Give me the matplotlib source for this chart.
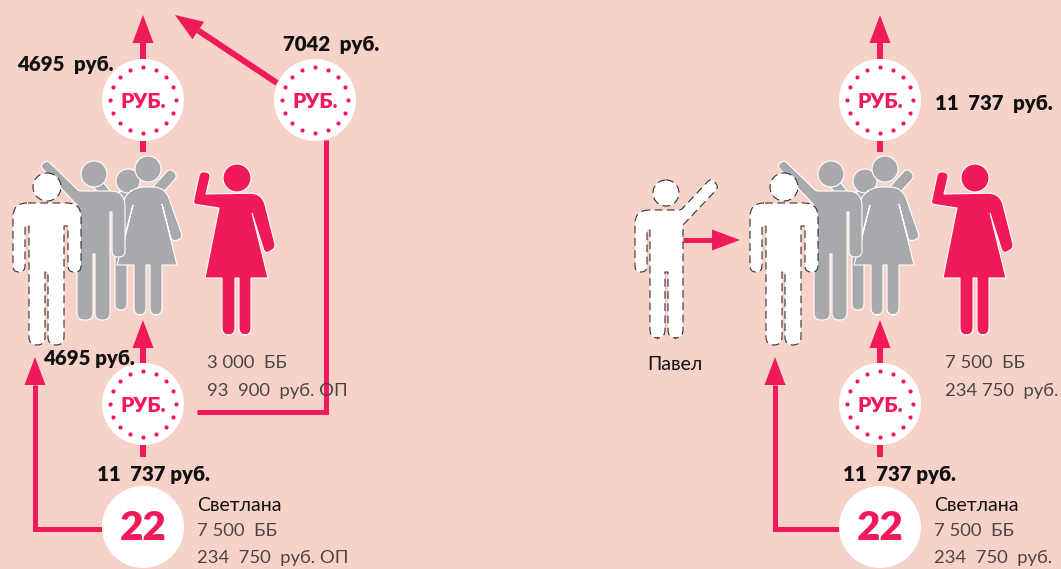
import numpy as np
import matplotlib
matplotlib.use('Agg')
import matplotlib.pyplot as plt
from matplotlib.path import Path
from matplotlib.patches import PathPatch, Circle, Polygon

plt.rcParams['font.family'] = ['Lato', 'Open Sans', 'DejaVu Sans']

PINK = '#F0195A'
GRAY = '#A7A9AC'
BG = '#F7D2C9'
DARK = '#111111'
SOFT = '#4a4543'

# labels: text, left x, centre y
bold_labels = [
    ('4695  руб.', 17, 64), ('7042  руб.', 283, 44), ('4695 руб.', 43, 358),
    ('11  737 руб.', 97, 474), ('11  737  руб.', 935, 103), ('11  737 руб.', 843, 474),
]
soft_labels = [
    ('3 000  ББ', 207, 363), ('93  900  руб. ОП', 207, 391),
    ('7 500  ББ', 197, 531), ('234  750  руб. ОП', 197, 558),
    ('7 500  ББ', 945, 363), ('234 750  руб.', 945, 391),
    ('7 500  ББ', 934, 531), ('234  750  руб.', 934, 558),
]
name_labels = [('Светлана', 197, 505), ('Светлана', 934, 505), ('Павел', 647, 364)]
coin_centres = [(143, 100), (315, 100), (143, 404), (880, 100), (880, 404)]
age_centres = [(143, 527), (880, 527)]
age_label = '22'
coin_label = 'РУБ.'

# arrows: polyline, width, has head
arrows = [
    ([(143, 60), (143, 15)], 6, True), ([(277, 83), (175, 15)], 6, True),
    ([(143, 152), (143, 140)], 6, False), ([(143, 365), (143, 320)], 6, True),
    ([(143, 457), (143, 445)], 6, False),
    ([(197, 412), (326, 412), (326, 140)], 5, False),
    ([(107, 529), (35, 529), (35, 357)], 5, True),
    ([(880, 60), (880, 15)], 6, True), ([(880, 152), (880, 140)], 6, False),
    ([(880, 365), (880, 320)], 6, True), ([(880, 457), (880, 445)], 6, False),
    ([(845, 529), (775, 529), (775, 357)], 5, True),
    ([(683, 240), (740, 240)], 5, True),
]

# person outlines as (x, y, corner radius)
man_front = [(13,203,14),(13,272,6),(25,272,6),(25,226,0),(29,226,0),(29,345,8),(45,345,8),(45,272,0),
             (48,272,0),(48,345,8),(64,345,8),(64,226,0),(68,226,0),(68,272,6),(81,272,6),(81,203,14)]
man_pavel = [(635,210,14),(635,272,6),(647,272,6),(647,230,0),(650,230,0),(650,338,8),(665,338,8),(665,272,0),
             (668,272,0),(668,338,8),(683,338,8),(683,225,0),(719,187,5),(711,178,5),(681,210,2)]
man_gray = [(40,166,4),(47,160,4),(79,191,2),(125,191,15),(125,257,6),(112,257,6),(112,212,0),(110,212,0),
            (110,320,7),(95,320,7),(95,254,0),(93,254,0),(93,320,7),(77,320,7),(77,205,0)]
man_neck = [(92,186,0),(103,182,0),(111,192,0),(98,192,0)]
man_back = [(170,168,5),(178,176,5),(158,198,0),(127,198,0),(127,310,6),(115,310,6),(115,200,10),
            (120,190,6),(150,190,0)]
woman_gray = [(137,187,8),(165,187,12),(183,238,5),(172,242,5),(162,204,0),(177,265,0),(162,265,0),
              (162,315,7),(150,315,7),(150,265,0),(146,265,0),(146,315,7),(134,315,7),(134,265,0),(117,265,0),
              (133,205,0),(122,250,5),(112,240,5),(125,195,8)]
woman_pink = [(200,171,5),(211,173,5),(206,194,0),(262,193,12),(276,248,5),(265,254,5),(252,213,0),
              (268,278,0),(251,278,0),(251,335,7),(239,335,7),(239,278,0),(235,278,0),(235,335,7),(222,335,7),
              (222,278,0),(205,278,0),(219,208,0),(193,204,3)]


def round_path(points, dx=0):
    verts, codes = [], []
    n = len(points)
    for i, (x, y, r) in enumerate(points):
        p = np.array([x + dx, y], float)
        a = np.array(points[i-1][:2], float) + [dx, 0]
        b = np.array(points[(i+1) % n][:2], float) + [dx, 0]
        if r == 0:
            verts.append(p)
            codes.append(Path.LINETO)
        else:
            p1 = p + (a-p) / np.linalg.norm(a-p) * r
            p2 = p + (b-p) / np.linalg.norm(b-p) * r
            verts += [p1, p, p2]
            codes += [Path.LINETO, Path.CURVE3, Path.CURVE3]
    codes[0] = Path.MOVETO
    verts.append(verts[0])
    codes.append(Path.CLOSEPOLY)
    return Path(verts, codes)


def person(ax, outline, head, dx, face, edge, ls='-', lw=0.8, z=3):
    ax.add_patch(PathPatch(round_path(outline, dx), fc=face, ec=edge, ls=ls, lw=lw, zorder=z))
    ax.add_patch(Circle((head[0]+dx, head[1]), head[2], fc=face, ec=edge, ls=ls, lw=lw, zorder=z))


def group(ax, dx):
    person(ax, man_back, (128, 181, 12), dx, GRAY, 'white', z=3)
    person(ax, woman_gray, (148, 169, 13), dx, GRAY, 'white', z=3.1)
    ax.add_patch(PathPatch(round_path(man_neck, dx), fc=GRAY, ec='white', lw=0.8, zorder=3.15))
    person(ax, man_gray, (94, 174, 13), dx, GRAY, 'white', z=3.2)
    person(ax, man_front, (47, 187, 14), dx, 'white', '#333333', ls=(0, (7, 4)), z=3.3)
    person(ax, woman_pink, (237, 178, 14), dx + (1 if dx else 0), PINK, 'white', z=3)


def arrow(ax, pts, width, head):
    pts = np.array(pts, float)
    if head:
        d = pts[-1] - pts[-2]
        d = d / np.linalg.norm(d)
        n = np.array([-d[1], d[0]])
        base = pts[-1] - d * 28
        ax.add_patch(Polygon([pts[-1], base + n * 10.5, base - n * 10.5], fc=PINK, ec='none', zorder=2))
        pts[-1] = base
    ax.plot(pts[:, 0], pts[:, 1], color=PINK, lw=width * 0.72, solid_capstyle='butt',
            solid_joinstyle='miter', zorder=2)


fig = plt.figure(figsize=(10.61, 5.69), dpi=100, facecolor=BG)
ax = fig.add_axes([0, 0, 1, 1])
ax.set_xlim(0, 1061)
ax.set_ylim(569, 0)
ax.axis('off')

for pts, width, head in arrows:
    arrow(ax, pts, width, head)

group(ax, 0)
group(ax, 737)
person(ax, man_pavel, (666, 193, 13), 0, 'white', '#333333', ls=(0, (7, 4)), z=3.3)

for x, y in coin_centres:
    ax.add_patch(Circle((x, y), 41, fc='white', ec='none', zorder=4))
    ang = np.linspace(0, 2*np.pi, 16, endpoint=False)
    ax.scatter(x + 33*np.cos(ang), y + 33*np.sin(ang), s=9, color=PINK, lw=0, zorder=5)
    ax.text(x, y + 1, coin_label, color=PINK, fontsize=15, fontweight='heavy', ha='center', va='center', zorder=6)

for x, y in age_centres:
    ax.add_patch(Circle((x, y), 41, fc='white', ec='none', zorder=4))
    ax.text(x, y + 1, age_label, color=PINK, fontsize=29, fontweight='heavy', ha='center', va='center', zorder=6)

for s, x, y in bold_labels:
    ax.text(x, y, s, color=DARK, fontsize=14.7, fontweight='heavy', va='center', zorder=7)
for s, x, y in soft_labels:
    ax.text(x, y, s, color=SOFT, fontsize=13.3, va='center', zorder=7)
for s, x, y in name_labels:
    ax.text(x, y, s, color=DARK, fontsize=14, va='center', zorder=7)

fig.savefig('out.png', dpi=100, facecolor=BG)
